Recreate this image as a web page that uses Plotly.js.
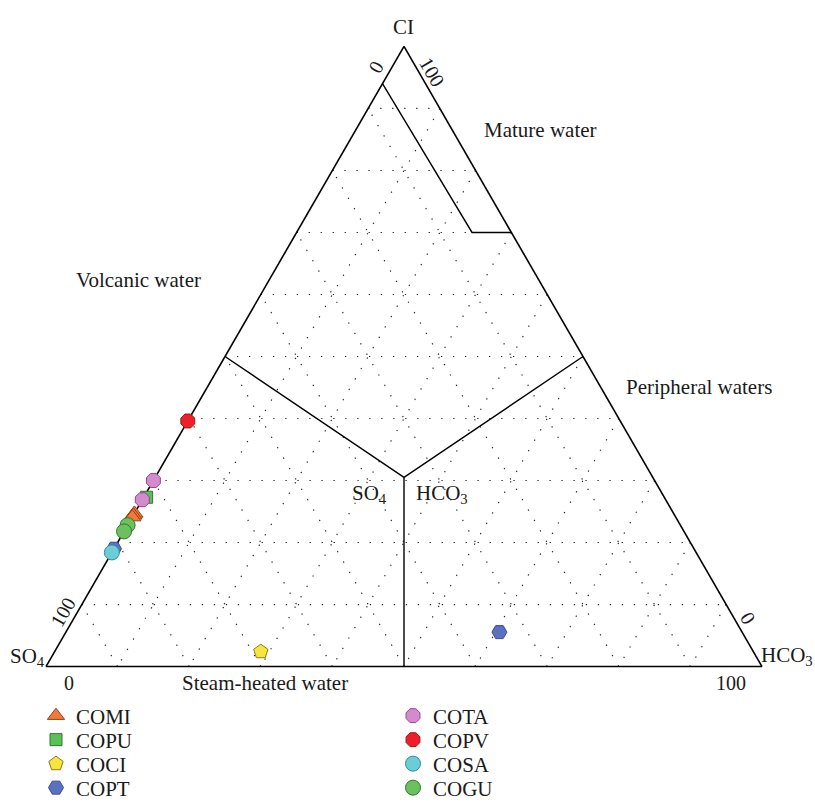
<!DOCTYPE html>
<html>
<head>
<meta charset="utf-8">
<script src="https://cdn.plot.ly/plotly-3.0.1.min.js"></script>
<style>html,body{margin:0;padding:0;background:#fff;}#chart{width:815px;height:803px;}</style>
</head>
<body>
<div id="chart"></div>
<script>
// ---------- DATA (percent: Cl, SO4, HCO3) ----------
const seriesNames = ['COMI', 'COPU', 'COCI', 'COPT', 'COTA', 'COPV', 'COSA', 'COGU'];
const clValues   = [[24.7, 24.4, 24.1], [27.3], [2.4],  [19.0, 5.55], [30.0, 26.9], [39.6], [18.4], [22.8, 21.8]];
const so4Values  = [[75.3, 75.6, 75.9], [72.3], [68.8], [81.0, 33.9], [70.0, 73.1], [60.4], [81.6], [77.2, 78.2]];
const hco3Values = [[0, 0, 0],          [0.4],  [28.8], [0, 60.55],   [0, 0],       [0],    [0],    [0, 0]];
const seriesSymbols = ['triangle-up', 'square', 'pentagon', 'hexagon2', 'octagon', 'octagon', 'circle', 'circle'];
const seriesFill = ['#EE7A3C', '#5CBF5A', '#F7E43C', '#5C70C0', '#D38CCB', '#EC2028', '#6CCDD7', '#6CC15E'];
const seriesEdge = ['#9A3E16', '#2C7A2C', '#8C7A22', '#3A4C9C', '#9B3D9B', '#A51419', '#2E8E9A', '#2D7A2D'];
const seriesLegend = ['legend', 'legend2', 'legend3', 'legend4', 'legend', 'legend2', 'legend3', 'legend4'];

// Field boundaries (Cl, SO4, HCO3)
const centerCl = [50, 30.5, 50, null, 30.5, 0];
const centerSO4 = [50, 34.75, 0, null, 34.75, 50];
const centerHCO3 = [0, 34.75, 50, null, 34.75, 50];
const matureCl = [94, 70, 70];
const matureSO4 = [6, 5.5, 0];
const matureHCO3 = [0, 24.5, 30];
const volcanicCl = [41.35, 61.9];
const volcanicSO4 = [63.45, 42.9];
const volcanicHCO3 = [-4.8, -4.8];

// Text labels
const regionLabels = ['Mature water', 'Volcanic water', 'Peripheral waters', 'Steam-heated water', 'SO<sub>4</sub>', 'HCO<sub>3</sub>'];
const cornerLabels = ['CI', 'SO<sub>4</sub>', 'HCO<sub>3</sub>'];
const tickLabels = ['0', '100', '100', '0', '0', '100'];

// ---------- RENDER ----------
const W = 815, H = 803;
const px = x => x / W;
const py = y => 1 - y / H;
const FONT = 'Liberation Serif, Times New Roman, serif';
const TXT = '#1a1a1a';

const traces = [];
const lineStyle = {color: '#000', width: 1.4};
traces.push({type: 'scatterternary', mode: 'lines', a: centerCl, b: centerSO4, c: centerHCO3,
  line: lineStyle, showlegend: false, hoverinfo: 'skip', cliponaxis: false, connectgaps: false});
traces.push({type: 'scatterternary', mode: 'lines', a: matureCl, b: matureSO4, c: matureHCO3,
  line: lineStyle, showlegend: false, hoverinfo: 'skip', cliponaxis: false});
traces.push({type: 'scatterternary', mode: 'lines', a: volcanicCl, b: volcanicSO4, c: volcanicHCO3,
  line: lineStyle, showlegend: false, hoverinfo: 'skip', cliponaxis: false});

seriesNames.forEach((name, i) => {
  traces.push({
    type: 'scatterternary', mode: 'markers', name: name,
    a: clValues[i], b: so4Values[i], c: hco3Values[i],
    legend: seriesLegend[i], cliponaxis: false,
    marker: {symbol: seriesSymbols[i], size: seriesSymbols[i] === 'square' ? 12 : 15, color: seriesFill[i],
             line: {color: seriesEdge[i], width: 1}}
  });
});

const axisCommon = {
  showticklabels: false, ticks: '', showline: true, linecolor: '#000', linewidth: 1.6,
  showgrid: true, gridcolor: '#2a2a2a', gridwidth: 1.2, griddash: '1.3px,10.7px',
  dtick: 10, tick0: 0, layer: 'below traces', min: 0, title: {text: ''}
};

function ann(text, x, y, size, angle) {
  return {text: text, x: px(x), y: py(y), xref: 'paper', yref: 'paper',
    xanchor: 'center', yanchor: 'middle', showarrow: false, textangle: angle || 0,
    font: {family: FONT, size: size, color: TXT}};
}

const annotations = [
  ann(regionLabels[0], 540, 130, 21),
  ann(regionLabels[1], 138, 280, 21),
  ann(regionLabels[2], 699, 387, 21),
  ann(regionLabels[3], 265, 683, 21),
  ann(regionLabels[4], 369, 494, 21),
  ann(regionLabels[5], 442, 494, 21),
  ann(cornerLabels[0], 403, 27, 21),
  ann(cornerLabels[1], 27, 657, 21),
  ann(cornerLabels[2], 787, 656, 21),
  ann(tickLabels[0], 376, 67, 20, -60),
  ann(tickLabels[1], 432, 72, 20, 60),
  ann(tickLabels[2], 63, 612, 20, -60),
  ann(tickLabels[3], 748, 618, 20, 60),
  ann(tickLabels[4], 69, 683, 20),
  ann(tickLabels[5], 731, 683, 20)
];

function legendRow(y) {
  return {orientation: 'h', x: px(36), xanchor: 'left', y: py(y), yanchor: 'middle',
    entrywidth: 312, bgcolor: 'rgba(0,0,0,0)', borderwidth: 0,
    font: {family: FONT, size: 21, color: TXT}, itemclick: false, itemdoubleclick: false};
}

const layout = {
  width: W, height: H,
  margin: {l: 0, r: 0, t: 0, b: 0, autoexpand: false},
  paper_bgcolor: '#fff',
  font: {family: FONT, color: TXT},
  ternary: {
    sum: 100,
    domain: {x: [px(46), px(762)], y: [py(667), py(46)]},
    bgcolor: '#fff',
    aaxis: Object.assign({}, axisCommon),
    baxis: Object.assign({}, axisCommon),
    caxis: Object.assign({}, axisCommon)
  },
  annotations: annotations,
  legend: legendRow(716),
  legend2: legendRow(740),
  legend3: legendRow(764),
  legend4: legendRow(788)
};

Plotly.newPlot('chart', traces, layout, {staticPlot: true, displayModeBar: false});
</script>
</body>
</html>
